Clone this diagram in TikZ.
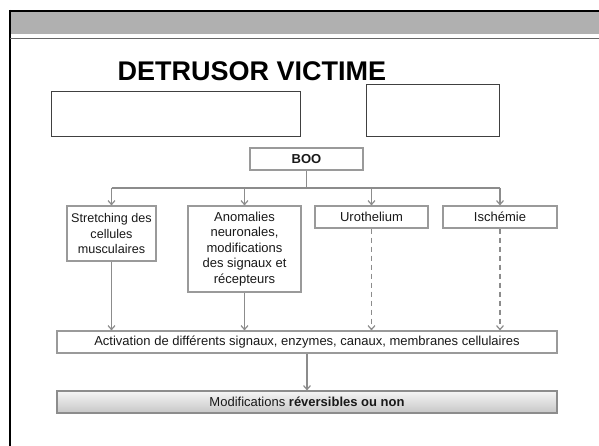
\documentclass[tikz,border=0pt]{standalone}
\usepackage{fontspec}
\setmainfont{Liberation Sans}
\usetikzlibrary{arrows.meta,shadows}
\definecolor{boxgray}{HTML}{9A9A9A}
\definecolor{linegray}{HTML}{8C8C8C}
\definecolor{bandgray}{HTML}{B0B0B0}
\begin{document}
\begin{tikzpicture}[x=1pt,y=-1pt,
  box/.style={draw=boxgray,line width=1.1pt,fill=white,inner sep=0pt,align=center,
    font=\fontsize{13}{15.5}\selectfont,text=black!90},
  emptybox/.style={draw=black!75,line width=0.9pt,inner sep=0pt},
  arr/.style={draw=linegray,line width=1.2pt,-{Straight Barb[length=4pt,width=7pt]}},
  dasharr/.style={arr,dash pattern=on 5pt off 4pt}]
\useasboundingbox (0,0) rectangle (599,446);
% slide frame
\fill[bandgray] (10,12) rectangle (599,34);
\draw[black,line width=2pt] (10,11) -- (599,11);
\draw[black,line width=2pt] (10,10) -- (10,446);
\draw[black!60,line width=1pt] (10,38.5) -- (599,38.5);
% title
\node[font=\bfseries\fontsize{27}{30}\selectfont,inner sep=0pt,anchor=base] (title) at (252,81) {DETRUSOR VICTIME};
% empty boxes
\node[emptybox,minimum width=249pt,minimum height=45pt] (e1) at (175.5,113.5) {};
\node[emptybox,minimum width=133pt,minimum height=52pt] (e2) at (432.5,110) {};
% boxes
\node[box,font=\bfseries\fontsize{13}{15.5}\selectfont,minimum width=113pt,minimum height=22pt] (boo) at (306.5,159) {BOO};
\node[box,font=\fontsize{12.6}{15.5}\selectfont,minimum width=89pt,minimum height=55pt] (s) at (111.5,233.5) {Stretching des\\cellules\\musculaires};
\node[box,minimum width=113pt,minimum height=86pt] (a) at (244.5,249) {Anomalies\\neuronales,\\modifications\\des signaux et\\récepteurs};
\node[box,minimum width=113pt,minimum height=22pt] (u) at (371.5,217) {Urothelium};
\node[box,minimum width=114pt,minimum height=22pt] (i) at (500,217) {Ischémie};
\node[box,minimum width=500pt,minimum height=22pt] (act) at (307,342) {Activation de différents signaux, enzymes, canaux, membranes cellulaires};
\node[box,draw=linegray,top color=white!96!black,bottom color=black!22,
  drop shadow={opacity=0.35,shadow xshift=0.6pt,shadow yshift=-1.2pt},
  minimum width=500pt,minimum height=22pt] (mod) at (307,402) {Modifications \textbf{réversibles ou non}};
% connectors
\coordinate (jy) at (0,188);
\draw[linegray,line width=1.2pt] (boo.south) -- (boo.south |- jy);
\draw[linegray,line width=1.2pt] (s.north |- jy) -- (i.north |- jy);
\draw[arr] (s.north |- jy) -- (s.north);
\draw[arr] (a.north |- jy) -- (a.north);
\draw[arr] (u.north |- jy) -- (u.north);
\draw[arr] (i.north |- jy) -- (i.north);
\draw[arr] (s.south) -- (s.south |- act.north);
\draw[arr] (a.south) -- (a.south |- act.north);
\draw[dasharr] (u.south) -- (u.south |- act.north);
\draw[dasharr] (i.south) -- (i.south |- act.north);
\draw[arr] (act.south) -- (mod.north);
\end{tikzpicture}
\end{document}
